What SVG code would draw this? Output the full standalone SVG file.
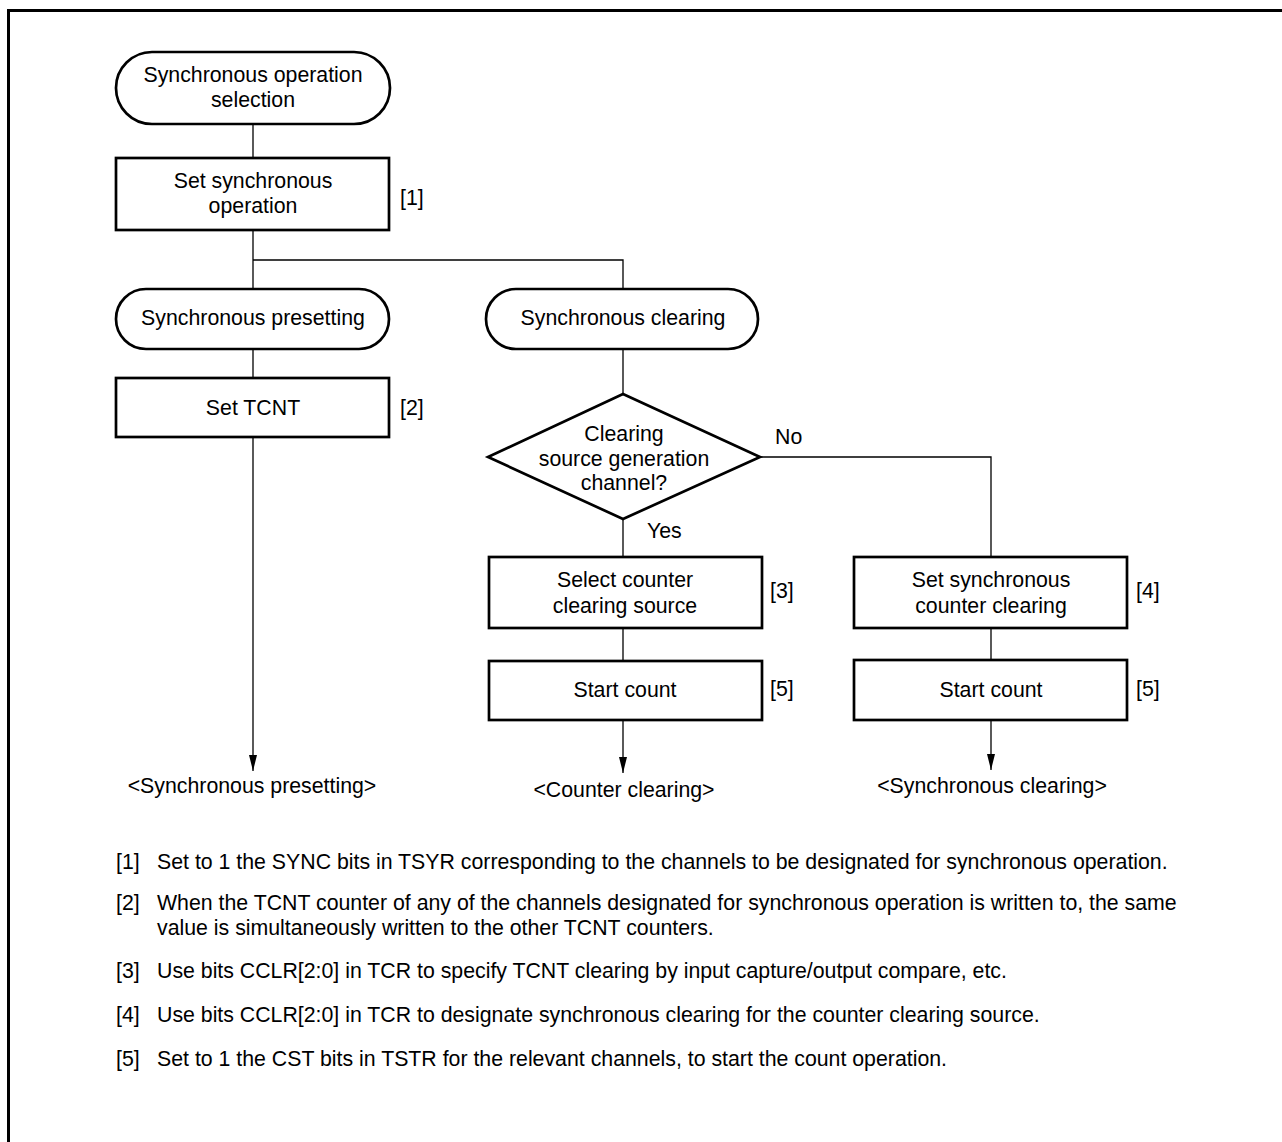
<svg xmlns="http://www.w3.org/2000/svg" width="1282" height="1142" viewBox="0 0 1282 1142">
<style>
text{font-family:"Liberation Sans",Arial,sans-serif;font-size:21.3px;fill:#000}
.c{text-anchor:middle}
.n{fill:#fff;stroke:#000;stroke-width:2.7}
.l{fill:none;stroke:#000;stroke-width:1.3}
</style>
<rect width="1282" height="1142" fill="#fff"/>
<path d="M8.5,1142 V10.5 H1282" fill="none" stroke="#000" stroke-width="3"/>
<g id="connectors">
<path class="l" d="M253,124 V158"/>
<path class="l" d="M253,230 V289"/>
<path class="l" d="M253,260 H623 V289"/>
<path class="l" d="M253,349 V378"/>
<path class="l" d="M253,437 V771"/>
<path class="l" d="M623,349 V394"/>
<path class="l" d="M623,519 V557"/>
<path class="l" d="M760,457 H991 V557"/>
<path class="l" d="M623,628 V661"/>
<path class="l" d="M991,628 V660"/>
<path class="l" d="M623,720 V773"/>
<path class="l" d="M991,720 V770"/>
<path d="M249,755 L257,755 L253,771 Z"/>
<path d="M619,757 L627,757 L623,773 Z"/>
<path d="M987,754 L995,754 L991,770 Z"/>
</g>
<g id="start">
<rect class="n" x="116" y="52" width="274" height="72" rx="36" ry="36"/>
<text class="c" x="253" y="82">Synchronous operation</text>
<text class="c" x="253" y="107">selection</text>
</g>
<g id="set-sync">
<rect class="n" x="116" y="158" width="273" height="72"/>
<text class="c" x="253" y="188">Set synchronous</text>
<text class="c" x="253" y="213">operation</text>
<text x="400" y="205">[1]</text>
</g>
<g id="presetting">
<rect class="n" x="116" y="289" width="273" height="60" rx="30" ry="30"/>
<text class="c" x="253" y="325">Synchronous presetting</text>
</g>
<g id="set-tcnt">
<rect class="n" x="116" y="378" width="273" height="59"/>
<text class="c" x="253" y="415">Set TCNT</text>
<text x="400" y="415">[2]</text>
</g>
<g id="clearing">
<rect class="n" x="486" y="289" width="272" height="60" rx="30" ry="30"/>
<text class="c" x="623" y="325">Synchronous clearing</text>
</g>
<g id="decision">
<path class="n" d="M623,394 L760,457 L623,519 L488,457 Z"/>
<text class="c" x="624" y="441">Clearing</text>
<text class="c" x="624" y="466">source generation</text>
<text class="c" x="624" y="490">channel?</text>
<text x="775" y="444">No</text>
<text x="647" y="538">Yes</text>
</g>
<g id="select-source">
<rect class="n" x="489" y="557" width="273" height="71"/>
<text class="c" x="625" y="587">Select counter</text>
<text class="c" x="625" y="613">clearing source</text>
<text x="770" y="598">[3]</text>
</g>
<g id="start-count-1">
<rect class="n" x="489" y="661" width="273" height="59"/>
<text class="c" x="625" y="697">Start count</text>
<text x="770" y="696">[5]</text>
</g>
<g id="set-sync-clear">
<rect class="n" x="854" y="557" width="273" height="71"/>
<text class="c" x="991" y="587">Set synchronous</text>
<text class="c" x="991" y="613">counter clearing</text>
<text x="1136" y="598">[4]</text>
</g>
<g id="start-count-2">
<rect class="n" x="854" y="660" width="273" height="60"/>
<text class="c" x="991" y="697">Start count</text>
<text x="1136" y="696">[5]</text>
</g>
<g id="outcomes">
<text class="c" x="252" y="793">&lt;Synchronous presetting&gt;</text>
<text class="c" x="624" y="797">&lt;Counter clearing&gt;</text>
<text class="c" x="992" y="793">&lt;Synchronous clearing&gt;</text>
</g>
<g id="notes">
<text x="116" y="869">[1]</text>
<text x="157" y="869">Set to 1 the SYNC bits in TSYR corresponding to the channels to be designated for synchronous operation.</text>
<text x="116" y="910">[2]</text>
<text x="157" y="910">When the TCNT counter of any of the channels designated for synchronous operation is written to, the same</text>
<text x="157" y="935">value is simultaneously written to the other TCNT counters.</text>
<text x="116" y="978">[3]</text>
<text x="157" y="978">Use bits CCLR[2:0] in TCR to specify TCNT clearing by input capture/output compare, etc.</text>
<text x="116" y="1022">[4]</text>
<text x="157" y="1022">Use bits CCLR[2:0] in TCR to designate synchronous clearing for the counter clearing source.</text>
<text x="116" y="1066">[5]</text>
<text x="157" y="1066">Set to 1 the CST bits in TSTR for the relevant channels, to start the count operation.</text>
</g>
</svg>
